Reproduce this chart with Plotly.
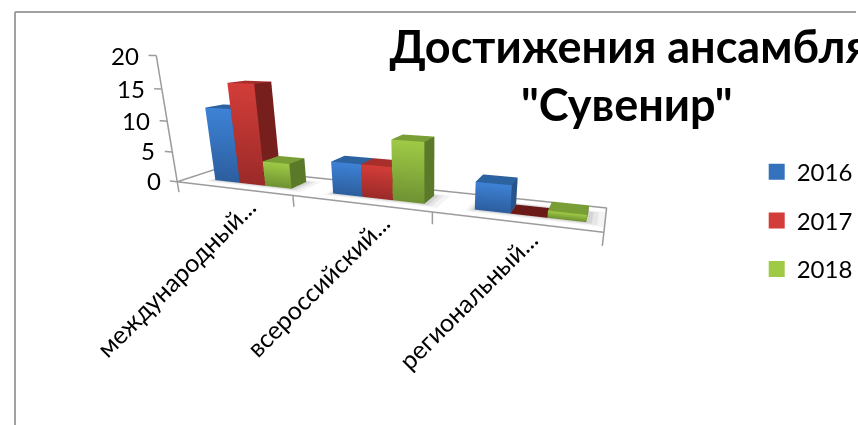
import math
import plotly.graph_objects as go

categories = ["международный...", "всероссийский...", "региональный..."]
series_names = ["2016", "2017", "2018"]
values_2016 = [12, 5, 4]
values_2017 = [16, 5, 0]
values_2018 = [4, 9, 1]
z_ticks = [0, 5, 10, 15, 20]

series_values = [values_2016, values_2017, values_2018]
front_top = ["#3e82d6", "#d33d39", "#9fca46"]
front_bottom = ["#2c5e9e", "#9a2a28", "#6e9232"]
top_col = ["#2c629f", "#a82e2b", "#7a9e36"]
side_col = ["#26548c", "#761f1d", "#5a7a2a"]
zero_col = ["#2c629f", "#6b1a18", "#7a9e36"]

GAP = 1 / 6
SHIFT = 0.065
BW = (1 - 2 * GAP) / 3
Y0, Y1 = 0.3, 0.72
ZMIN = -6
label_dx = [0.77, 0.77, 0.68]

fig = go.Figure()


def quad_mesh(quads, name):
    xs, ys, zs, cols, i, j, k = [], [], [], [], [], [], []
    for q in quads:
        n = len(xs)
        for (x, y, z, c) in q:
            xs.append(x); ys.append(y); zs.append(z); cols.append(c)
        i += [n, n]; j += [n + 1, n + 2]; k += [n + 2, n + 3]
    fig.add_trace(go.Mesh3d(x=xs, y=ys, z=zs, i=i, j=j, k=k, vertexcolor=cols, flatshading=True,
                            lighting=dict(ambient=1, diffuse=0, specular=0, roughness=1, fresnel=0),
                            hoverinfo="skip", name=name, showlegend=False))


# soft floor shadows
for g in range(len(categories)):
    for pad, col, dz in ((0.10, "#f4f4f4", 0.03), (0.06, "#e6e6e6", 0.02), (0.03, "#d4d4d4", 0.01)):
        a, b = g + GAP + SHIFT - pad / 2, g + 1 - GAP + SHIFT + pad
        c, d = Y0 - pad, Y1 + pad
        quad_mesh([[(a, c, -dz, col), (b, c, -dz, col), (b, d, -dz, col), (a, d, -dz, col)]], "shadow")

for s, vals in enumerate(series_values):
    quads = []
    for g, v in enumerate(vals):
        x0 = g + GAP + SHIFT + s * BW
        x1 = x0 + BW
        tc = zero_col[s] if v == 0 else top_col[s]
        sc = side_col[s]
        ft, fb = front_top[s], front_bottom[s]
        quads.append([(x0, Y0, 0, fb), (x1, Y0, 0, fb), (x1, Y0, v, ft), (x0, Y0, v, ft)])
        quads.append([(x1, Y0, 0, sc), (x1, Y1, 0, sc), (x1, Y1, v, sc), (x1, Y0, v, sc)])
        quads.append([(x0, Y0, v, tc), (x1, Y0, v, tc), (x1, Y1, v, tc), (x0, Y1, v, tc)])
    quad_mesh(quads, series_names[s])

# floor frame, category ticks, value axis and its ticks
fx, fy, fz = [0, 3, 3, 0, 0], [0, 0, 1, 1, 0], [0, 0, 0, 0, 0]
for t in range(len(categories) + 1):
    fx += [None, t, t]; fy += [None, 0, 0]; fz += [None, 0, -1.8]
fx += [None, 0, 0]; fy += [None, 0, 0]; fz += [None, 0, max(z_ticks)]
for t in z_ticks:
    fx += [None, 0, -0.07]; fy += [None, 0, 0]; fz += [None, t, t]
fig.add_trace(go.Scatter3d(x=fx, y=fy, z=fz, mode="lines", line=dict(color="#9c9c9c", width=3),
                           hoverinfo="skip", showlegend=False))

# legend entries
for s, name in enumerate(series_names):
    fig.add_trace(go.Scatter3d(x=[None], y=[None], z=[None], mode="markers", name=name, legendgroup=name,
                               marker=dict(symbol="square", size=16, color=front_top[s] if s else "#3472bd")))

rot, el, dist = math.radians(20), math.radians(19.1), 2.2
center = dict(x=0.31, y=0, z=-0.262)
eye = dict(x=center["x"] + dist * math.sin(rot) * math.cos(el),
           y=center["y"] - dist * math.cos(rot) * math.cos(el),
           z=center["z"] + dist * math.sin(el))

cat_labels = [dict(x=g + label_dx[g], y=0, z=0.5, text=c, textangle=-45, showarrow=False, xanchor="right", yanchor="top",
                   font=dict(size=25, color="#000000")) for g, c in enumerate(categories)]
val_labels = [dict(x=-0.14, y=0, z=t, text=str(t), showarrow=False, xanchor="right", yanchor="middle",
                   font=dict(size=24, color="#000000")) for t in z_ticks]

hidden = dict(visible=False, showgrid=False, zeroline=False, showbackground=False, showticklabels=False)

fig.update_layout(
    width=858, height=425, margin=dict(l=0, r=0, t=0, b=0), paper_bgcolor="white",
    font=dict(family="Lato", color="#000000"),
    title=dict(text="<b>Достижения ансамбля</b>", x=0.733, xanchor="center", y=0.89, yanchor="middle",
               font=dict(size=45, family="Lato")),
    showlegend=True,
    legend=dict(x=0.884, y=0.648, xanchor="left", yanchor="top", font=dict(size=24), tracegroupgap=14.5,
                bgcolor="rgba(0,0,0,0)", itemwidth=30),
    scene=dict(
        domain=dict(x=[0, 1], y=[0, 1]),
        aspectmode="manual", aspectratio=dict(x=2.08, y=0.3, z=0.755),
        camera=dict(eye=eye, up=dict(x=0, y=0, z=1), center=center,
                    projection=dict(type="perspective")),
        xaxis=dict(range=[-0.2, 3.02], **hidden),
        yaxis=dict(range=[-0.02, 1.02], **hidden),
        zaxis=dict(range=[ZMIN, 20.2], **hidden),
        annotations=cat_labels + val_labels,
    ),
    annotations=[dict(text="<b>\"Сувенир\"</b>", xref="paper", yref="paper", x=0.733, y=0.755, xanchor="center",
                      yanchor="middle", showarrow=False, font=dict(size=45, family="Lato"))],
    shapes=[dict(type="line", xref="paper", yref="paper", x0=0.0175, x1=1, y0=0.972, y1=0.972,
                 line=dict(color="#a0a0a0", width=2)),
            dict(type="line", xref="paper", yref="paper", x0=0.0175, x1=0.0175, y0=0, y1=0.972,
                 line=dict(color="#a0a0a0", width=2))],
)

fig.write_html("out.html", post_script="document.body.style.margin='0';", config=dict(displayModeBar=False))
